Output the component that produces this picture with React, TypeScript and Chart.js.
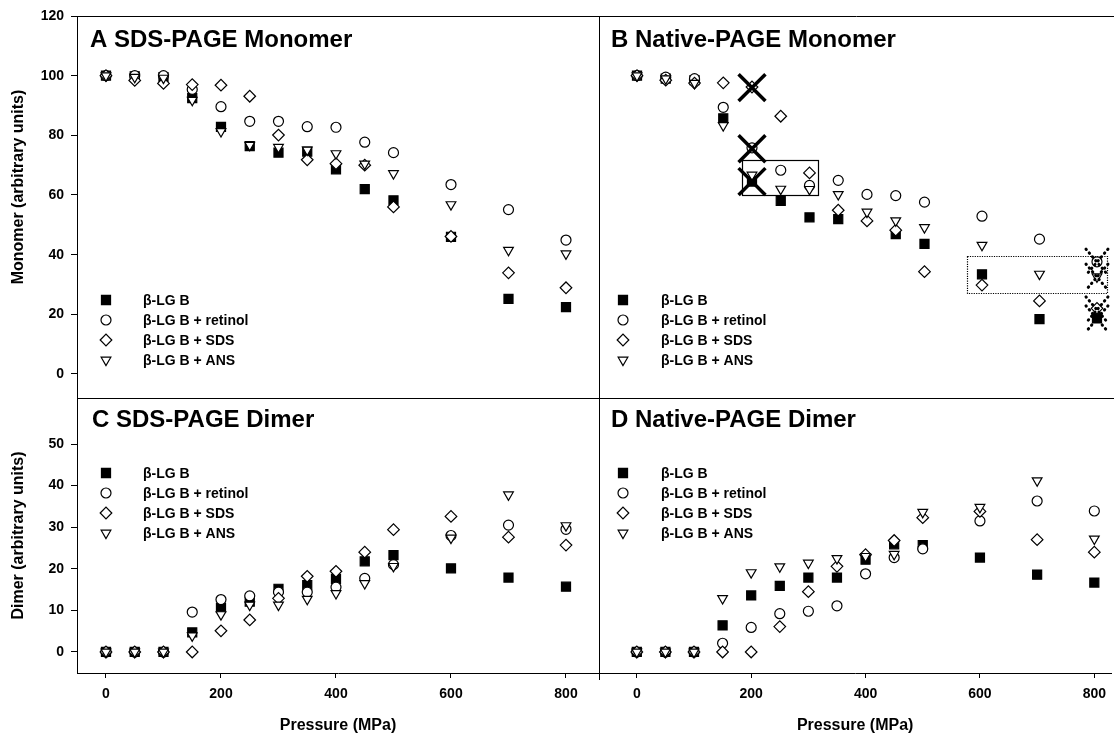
import React, { useEffect, useRef } from 'react';
import { Chart, registerables } from 'chart.js';

Chart.register(...registerables);

// ---------- DATA ----------
const PRESSURE = [0, 50, 100, 150, 200, 250, 300, 350, 400, 450, 500, 600, 700, 800];
const SERIES_LABELS = ['β-LG B', 'β-LG B + retinol', 'β-LG B + SDS', 'β-LG B + ANS'];

// A: SDS-PAGE Monomer
const A_LGB = [100, 99.8, 99.5, 92.5, 82.8, 76.4, 74.2, 74.5, 68.6, 62.0, 58.2, 46.0, 25.2, 22.4];
const A_RET = [100, 100, 100, 95.4, 89.6, 84.7, 84.7, 82.9, 82.7, 77.7, 74.2, 63.5, 55.1, 44.9];
const A_SDS = [100, 98.4, 97.4, 97.0, 96.8, 93.1, 80.1, 71.8, 70.5, 70.0, 56.0, 46.1, 33.9, 28.9];
const A_ANS = [100, 99.5, 99.2, 91.8, 81.3, 76.7, 76.0, 75.1, 73.9, 70.4, 67.2, 56.8, 41.5, 40.3];

// B: Native-PAGE Monomer
const B_LGB = [100, 99.0, 98.5, 85.7, 64.5, 58.0, 52.5, 51.9, null, 46.9, 43.6, 33.4, 18.4, 18.6];
const B_RET = [100, 99.5, 99.0, 89.4, 75.8, 68.3, 63.2, 64.9, 60.2, 59.8, 57.6, 52.9, 45.2, 37.6];
const B_SDS = [100, 98.5, 97.5, 97.6, 96.2, 86.4, 67.4, 54.9, 51.3, 48.2, 34.3, 29.8, 24.5, 22.0];
const B_ANS = [100, 99.0, 97.5, 83.3, 66.7, 62.0, 61.9, 60.2, 54.3, 51.4, 49.1, 43.2, 33.5, 32.6];
// crossed-out points in B
const B_CROSS_X = [200, 200, 200];
const B_CROSS_Y = [96, 75.5, 64.5];
const B_DOTCROSS_X = [800, 800, 800, 800];
const B_DOTCROSS_Y = [37.5, 32.5, 21.5, 18.5];
// boxes in B (data coordinates: [x0, x1], [y0, y1])
const B_SOLID_BOX_X = [183, 315];
const B_SOLID_BOX_Y = [59.6, 71.4];
const B_DOTTED_BOX_X = [574, 817];
const B_DOTTED_BOX_Y = [27.1, 39.5];

// C: SDS-PAGE Dimer
const C_LGB = [0, 0, 0, 4.7, 10.6, 12.1, 15.2, 16.1, 17.6, 21.8, 23.3, 20.1, 17.9, 15.7];
const C_RET = [0, 0, 0, 9.6, 12.6, 13.5, 14.4, 14.4, 15.6, 17.7, 21.0, 28.0, 30.5, 29.5];
const C_SDS = [0, 0, 0, 0, 5.1, 7.7, 12.9, 18.2, 19.4, 24.0, 29.4, 32.6, 27.6, 25.7];
const C_ANS = [0, 0, 0, 3.9, 9.0, 11.3, 11.3, 12.7, 14.1, 16.5, 20.6, 27.4, 37.8, 30.4];

// D: Native-PAGE Dimer
const D_LGB = [0, 0, 0, 6.4, 13.6, 15.9, 17.9, 17.9, 22.2, 25.9, 25.7, 22.7, 18.6, 16.7];
const D_RET = [0, 0, 0, 2.1, 5.9, 9.2, 9.8, 11.1, 18.8, 22.7, 24.8, 31.5, 36.3, 33.9];
const D_SDS = [0, 0, 0, 0, 0, 6.1, 14.5, 20.6, 23.4, 26.8, 32.3, 33.8, 27.0, 24.0];
const D_ANS = [0, 0, 0, 12.9, 19.1, 20.5, 21.4, 22.5, 23.0, 23.5, 33.6, 34.8, 41.2, 27.2];

const MONOMER_TICKS = [0, 20, 40, 60, 80, 100, 120];
const DIMER_TICKS = [0, 10, 20, 30, 40, 50];
const PRESSURE_TICKS = [0, 200, 400, 600, 800];

// ---------- STYLES ----------
const FONT = '"Liberation Sans", Arial, Helvetica, sans-serif';
const TICK_FONT = { family: FONT, size: 14, weight: 'bold' as const };
const AXIS_TITLE_FONT = { family: FONT, size: 16, weight: 'bold' as const };

type Sym = { style: string; radius: number; fill: string; rotation: number };
const SYMS: Sym[] = [
  { style: 'rect', radius: 6.4, fill: '#000', rotation: 0 },
  { style: 'circle', radius: 5, fill: '#fff', rotation: 0 },
  { style: 'rectRot', radius: 5.8, fill: '#fff', rotation: 0 },
  { style: 'triangle', radius: 5.6, fill: '#fff', rotation: 180 },
];

function drawSym(ctx: CanvasRenderingContext2D, s: Sym, x: number, y: number) {
  ctx.save();
  ctx.beginPath();
  const r = s.radius;
  if (s.style === 'rect') {
    const h = r * Math.SQRT1_2;
    ctx.rect(x - h, y - h, 2 * h, 2 * h);
  } else if (s.style === 'circle') {
    ctx.arc(x, y, r, 0, Math.PI * 2);
  } else if (s.style === 'rectRot') {
    ctx.moveTo(x - r, y);
    ctx.lineTo(x, y - r);
    ctx.lineTo(x + r, y);
    ctx.lineTo(x, y + r);
    ctx.closePath();
  } else if (s.style === 'triangle') {
    let rad = (s.rotation * Math.PI) / 180;
    ctx.moveTo(x + Math.sin(rad) * r, y - Math.cos(rad) * r);
    rad += (2 * Math.PI) / 3;
    ctx.lineTo(x + Math.sin(rad) * r, y - Math.cos(rad) * r);
    rad += (2 * Math.PI) / 3;
    ctx.lineTo(x + Math.sin(rad) * r, y - Math.cos(rad) * r);
    ctx.closePath();
  }
  ctx.fillStyle = s.fill;
  ctx.fill();
  ctx.lineWidth = 1.2;
  ctx.strokeStyle = '#000';
  ctx.stroke();
  ctx.restore();
}

const al = (p: number) => Math.round(p - 0.5) + 0.5;

const decorPlugin = {
  id: 'decor',
  afterDraw(chart: any, _args: any, opts: any) {
    const { ctx, chartArea: a, scales } = chart;
    const xs = scales.x;
    const ys = scales.y;
    ctx.save();
    ctx.strokeStyle = '#000';
    ctx.lineWidth = 1;
    const L = al(a.left), R = al(a.right), T = al(a.top), B = al(a.bottom);
    const b = opts.borders || {};
    ctx.beginPath();
    if (b.top) { ctx.moveTo(a.left, T); ctx.lineTo(a.right, T); }
    if (b.bottom) { ctx.moveTo(a.left, B); ctx.lineTo(a.right, B); }
    if (b.left) { ctx.moveTo(L, a.top); ctx.lineTo(L, a.bottom + (b.leftExt || 0)); }
    if (b.right) { ctx.moveTo(R, a.top); ctx.lineTo(R, a.bottom); }
    ctx.stroke();

    // boxes
    (opts.boxes || []).forEach((bx: any) => {
      const x0 = xs.getPixelForValue(bx.x[0]);
      const x1 = xs.getPixelForValue(bx.x[1]);
      const y0 = ys.getPixelForValue(bx.y[1]);
      const y1 = ys.getPixelForValue(bx.y[0]);
      ctx.save();
      ctx.lineWidth = 1.2;
      ctx.setLineDash(bx.dotted ? [1.2, 1.2] : []);
      ctx.strokeRect(al(x0), al(y0), Math.round(x1 - x0), Math.round(y1 - y0));
      ctx.restore();
    });

    // dotted crosses
    if (opts.dotCross) {
      const { x, y } = opts.dotCross;
      ctx.save();
      ctx.lineWidth = 3;
      ctx.lineCap = 'round';
      ctx.setLineDash([0.5, 4.5]);
      x.forEach((xv: number, i: number) => {
        const px = xs.getPixelForValue(xv);
        const py = ys.getPixelForValue(y[i]);
        const h = 11, v = 13;
        ctx.beginPath();
        ctx.moveTo(px - h, py - v);
        ctx.lineTo(px + h, py + v);
        ctx.moveTo(px + h, py - v);
        ctx.lineTo(px - h, py + v);
        ctx.stroke();
      });
      ctx.restore();
    }

    // panel title
    ctx.fillStyle = '#000';
    ctx.font = `bold 24px ${FONT}`;
    ctx.textBaseline = 'alphabetic';
    ctx.textAlign = 'left';
    ctx.fillText(opts.title, a.left + opts.titleDx, a.top + opts.titleDy);

    // legend
    ctx.font = `bold 14px ${FONT}`;
    ctx.textBaseline = 'middle';
    SERIES_LABELS.forEach((lab, i) => {
      const yy = a.top + opts.legendDy + i * 20;
      drawSym(ctx, SYMS[i], a.left + opts.legendSymDx, yy);
      ctx.fillStyle = '#000';
      ctx.fillText(lab, a.left + opts.legendTextDx, yy + 1);
    });
    ctx.restore();
  },
};

type Panel = {
  key: string;
  title: string;
  series: (number | null)[][];
  xMin: number; xMax: number;
  yMin: number; yMax: number;
  yTicks: number[];
  padding: { left: number; right: number; top: number; bottom: number };
  showX: boolean;
  showY: boolean;
  yTitle: string;
  decor: any;
};

const PANELS: Panel[] = [
  {
    key: 'A', title: 'A SDS-PAGE Monomer', series: [A_LGB, A_RET, A_SDS, A_ANS],
    xMin: -50.4, xMax: 857.4, yMin: -8.05, yMax: 120, yTicks: MONOMER_TICKS,
    padding: { left: 0, right: 515, top: 16, bottom: 338 }, showX: false, showY: true,
    yTitle: '         Monomer (arbitrary units)',
    decor: { borders: { top: true, right: true, bottom: true }, titleDx: 13, titleDy: 31, legendSymDx: 29, legendTextDx: 66, legendDy: 284 },
  },
  {
    key: 'B', title: 'B Native-PAGE Monomer', series: [B_LGB, B_RET, B_SDS, B_ANS],
    xMin: -66.1, xMax: 829.6, yMin: -8.05, yMax: 120, yTicks: MONOMER_TICKS,
    padding: { left: 599, right: 0, top: 16, bottom: 338 }, showX: false, showY: false,
    yTitle: '',
    decor: {
      borders: { top: true, left: true, bottom: true }, titleDx: 12, titleDy: 31, legendSymDx: 24, legendTextDx: 62, legendDy: 284,
      boxes: [
        { x: B_SOLID_BOX_X, y: B_SOLID_BOX_Y, dotted: false },
        { x: B_DOTTED_BOX_X, y: B_DOTTED_BOX_Y, dotted: true },
      ],
      dotCross: { x: B_DOTCROSS_X, y: B_DOTCROSS_Y },
    },
  },
  {
    key: 'C', title: 'C SDS-PAGE Dimer', series: [C_LGB, C_RET, C_SDS, C_ANS],
    xMin: -50.4, xMax: 857.4, yMin: -5.05, yMax: 61.06, yTicks: DIMER_TICKS,
    padding: { left: 0, right: 515, top: 398, bottom: 0 }, showX: true, showY: true,
    yTitle: 'Dimer (arbitrary units)',
    decor: { borders: { top: true, right: true }, titleDx: 15, titleDy: 29, legendSymDx: 29, legendTextDx: 66, legendDy: 75 },
  },
  {
    key: 'D', title: 'D Native-PAGE Dimer', series: [D_LGB, D_RET, D_SDS, D_ANS],
    xMin: -66.1, xMax: 829.6, yMin: -5.05, yMax: 61.06, yTicks: DIMER_TICKS,
    padding: { left: 599, right: 0, top: 398, bottom: 0 }, showX: true, showY: false,
    yTitle: '',
    decor: { borders: { top: true, left: true, leftExt: 7 }, titleDx: 12, titleDy: 29, legendSymDx: 24, legendTextDx: 62, legendDy: 75 },
  },
];

function buildConfig(p: Panel): any {
  const datasets: any[] = p.series.map((vals, si) => ({
    label: SERIES_LABELS[si],
    data: PRESSURE.map((x, i) => ({ x, y: vals[i] })).filter((d) => d.y !== null),
    showLine: false,
    pointStyle: SYMS[si].style,
    pointRadius: SYMS[si].radius,
    pointRotation: SYMS[si].rotation,
    pointBackgroundColor: SYMS[si].fill,
    pointBorderColor: '#000',
    pointBorderWidth: 1.2,
    order: 4 - si,
  }));
  if (p.key === 'B') {
    datasets.push({
      label: 'excluded',
      data: B_CROSS_X.map((x, i) => ({ x, y: B_CROSS_Y[i] })),
      showLine: false,
      pointStyle: 'crossRot',
      pointRadius: 19,
      pointBorderColor: '#000',
      pointBorderWidth: 3.5,
      order: -1,
    });
  }
  return {
    type: 'scatter',
    data: { datasets },
    plugins: [decorPlugin],
    options: {
      responsive: false,
      animation: false,
      events: [],
      layout: { padding: p.padding, autoPadding: false },
      plugins: {
        legend: { display: false },
        tooltip: { enabled: false },
        title: { display: false },
        decor: { ...p.decor, title: p.title },
      },
      scales: {
        x: {
          type: 'linear',
          position: 'bottom',
          display: p.showX,
          min: p.xMin,
          max: p.xMax,
          afterFit: (s: any) => { s.height = p.showX ? 63 : 0; },
          afterBuildTicks: (s: any) => { s.ticks = PRESSURE_TICKS.map((v) => ({ value: v })); },
          ticks: { font: TICK_FONT, color: '#000', padding: 8, maxRotation: 0, autoSkip: false, includeBounds: false, stepSize: 200 },
          grid: { drawOnChartArea: false, drawTicks: true, tickLength: 5, color: '#000', lineWidth: 1 },
          border: { display: true, color: '#000', width: 1 },
          title: { display: true, text: 'Pressure (MPa)', font: AXIS_TITLE_FONT, color: '#000', padding: { top: 0, bottom: 1 } },
        },
        y: {
          type: 'linear',
          position: 'left',
          display: p.showY,
          min: p.yMin,
          max: p.yMax,
          afterFit: (s: any) => { s.width = p.showY ? 77 : 0; },
          afterBuildTicks: (s: any) => { s.ticks = p.yTicks.map((v) => ({ value: v })); },
          ticks: { font: TICK_FONT, color: '#000', padding: 7, autoSkip: false, includeBounds: false },
          grid: { drawOnChartArea: false, drawTicks: true, tickLength: 6, color: '#000', lineWidth: 1 },
          border: { display: true, color: '#000', width: 1 },
          title: { display: p.yTitle !== '', text: p.yTitle, font: AXIS_TITLE_FONT, color: '#000', padding: { top: 9, bottom: 0 } },
        },
      },
    },
  };
}

export default function App() {
  const canvases = useRef<(HTMLCanvasElement | null)[]>([]);
  useEffect(() => {
    const charts = PANELS.map((p, i) => new Chart(canvases.current[i] as HTMLCanvasElement, buildConfig(p)));
    return () => charts.forEach((c) => c.destroy());
  }, []);
  return (
    <div style={{ position: 'absolute', left: 0, top: 0, width: 1114, height: 736, background: '#fff', overflow: 'hidden' }}>
      {PANELS.map((p, i) => (
        <canvas
          key={p.key}
          ref={(el) => { canvases.current[i] = el; }}
          width={1114}
          height={736}
          style={{ position: 'absolute', left: 0, top: 0, width: 1114, height: 736 }}
        />
      ))}
    </div>
  );
}
